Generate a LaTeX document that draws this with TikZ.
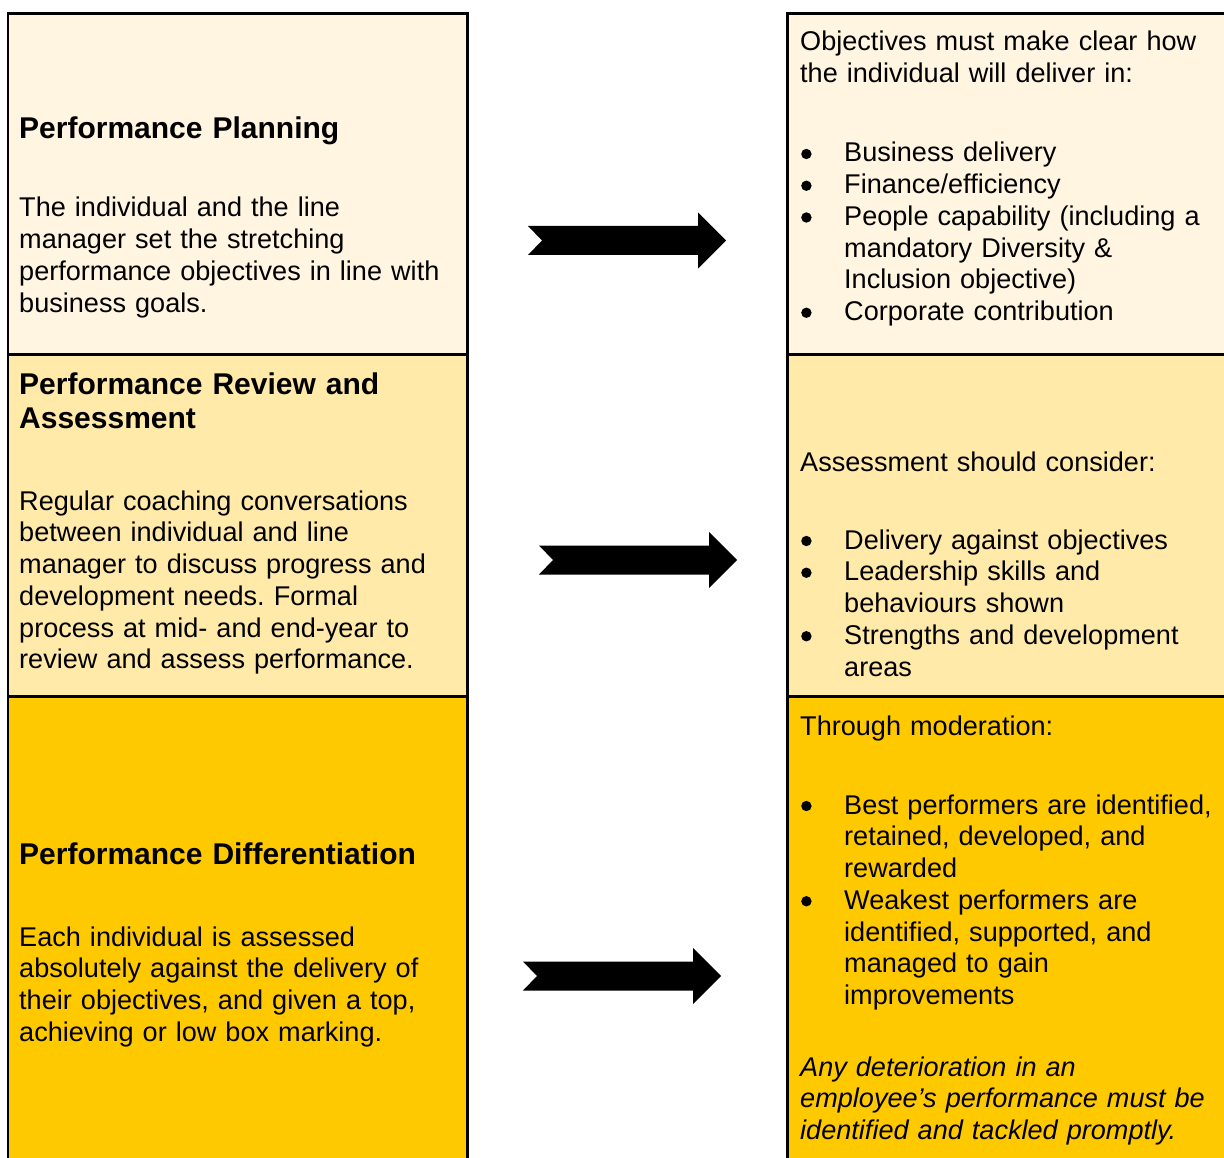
\documentclass[tikz,border=0pt]{standalone}
\usepackage{fontspec}
\setmainfont{Liberation Sans}

\definecolor{planfill}{HTML}{FFF5E0}
\definecolor{reviewfill}{HTML}{FFEAA9}
\definecolor{differfill}{HTML}{FFC900}

% list items with a round blob and a hanging indent
\newcommand\blob{\tikz[baseline=-8pt]\fill (0,0) circle[radius=5.2pt];}
\newcommand\bitem[1]{\hangindent=44pt\hangafter=1\noindent
    \makebox[44pt][l]{\hspace{1pt}\blob}#1\par}

\tikzset{
    cell/.style={
        draw=black, line width=2.8pt, fill=#1,
        rectangle, anchor=north west, inner sep=0pt
    },
    body/.style={
        anchor=base west, inner sep=0pt, text width=440pt, align=left,
        font=\frenchspacing\fontsize{27.1pt}{31.75pt}\selectfont
    },
    head/.style={body, font=\bfseries\fontsize{30pt}{33pt}\selectfont},
    note/.style={body, font=\frenchspacing\itshape\fontsize{27.1pt}{31.75pt}\selectfont},
    fatarrow/.pic={
        \fill (0,-14.5) -- (170,-14.5) -- (170,-28) -- (198,0)
            -- (170,28) -- (170,14.5) -- (0,14.5) -- (14,0) -- cycle;
    }
}

\begin{document}
\begin{tikzpicture}[x=1pt, y=-1pt]
    \useasboundingbox (0,0) rectangle (1224,1158);
    \clip (0,0) rectangle (1224,1158);

    % the two columns, one row per stage
    \node[cell=planfill, minimum width=459.5pt, minimum height=341.5pt] (plan) at (6.5,12) {};
    \node[cell=reviewfill, minimum width=459.5pt, minimum height=341.5pt] (review) at (6.5,353.5) {};
    \node[cell=differfill, minimum width=459.5pt, minimum height=480pt] (differ) at (6.5,695) {};
    \node[cell=planfill, minimum width=460pt, minimum height=341.5pt] (planaims) at (786,12) {};
    \node[cell=reviewfill, minimum width=460pt, minimum height=341.5pt] (reviewaims) at (786,353.5) {};
    \node[cell=differfill, minimum width=460pt, minimum height=480pt] (differaims) at (786,695) {};

    % left column
    \node[head] (planhead) at (19,139) {Performance Planning};
    \node[body] (plantext) at (19,217) {The individual and the line\\
        manager set the stretching\\
        performance objectives in line with\\
        business goals.};
    \node[head] (reviewhead) at (19,395) {Performance Review and\\Assessment};
    \node[body] (reviewtext) at (19,510) {Regular coaching conversations\\
        between individual and line\\
        manager to discuss progress and\\
        development needs. Formal\\
        process at mid- and end-year to\\
        review and assess performance.};
    \node[head] (differhead) at (19,864) {Performance Differentiation};
    \node[body] (differtext) at (19,946) {Each individual is assessed\\
        absolutely against the delivery of\\
        their objectives, and given a top,\\
        achieving or low box marking.};

    % right column
    \node[body] (planintro) at (800,51) {Objectives must make clear how\\
        the individual will deliver in:};
    \node[body] (planlist) at (800,162) {\bitem{Business delivery}%
        \bitem{Finance/efficiency}%
        \bitem{People capability (including a\newline mandatory Diversity \&\newline Inclusion objective)}%
        \bitem{Corporate contribution}};
    \node[body] (reviewintro) at (800,471) {Assessment should consider:};
    \node[body] (reviewlist) at (800,549) {\bitem{Delivery against objectives}%
        \bitem{Leadership skills and\newline behaviours shown}%
        \bitem{Strengths and development\newline areas}};
    \node[body] (differintro) at (800,735) {Through moderation:};
    \node[body] (differlist) at (800,814) {\bitem{Best performers are identified,\newline retained, developed, and\newline rewarded}%
        \bitem{Weakest performers are\newline identified, supported, and\newline managed to gain\newline improvements}};
    \node[note] (differnote) at (800,1076) {Any deterioration in an\\
        employee’s performance must be\\
        identified and tackled promptly.};

    % arrows between the columns
    \pic at (528,240.5) {fatarrow};
    \pic at (539,560) {fatarrow};
    \pic at (523,976) {fatarrow};
\end{tikzpicture}
\end{document}
